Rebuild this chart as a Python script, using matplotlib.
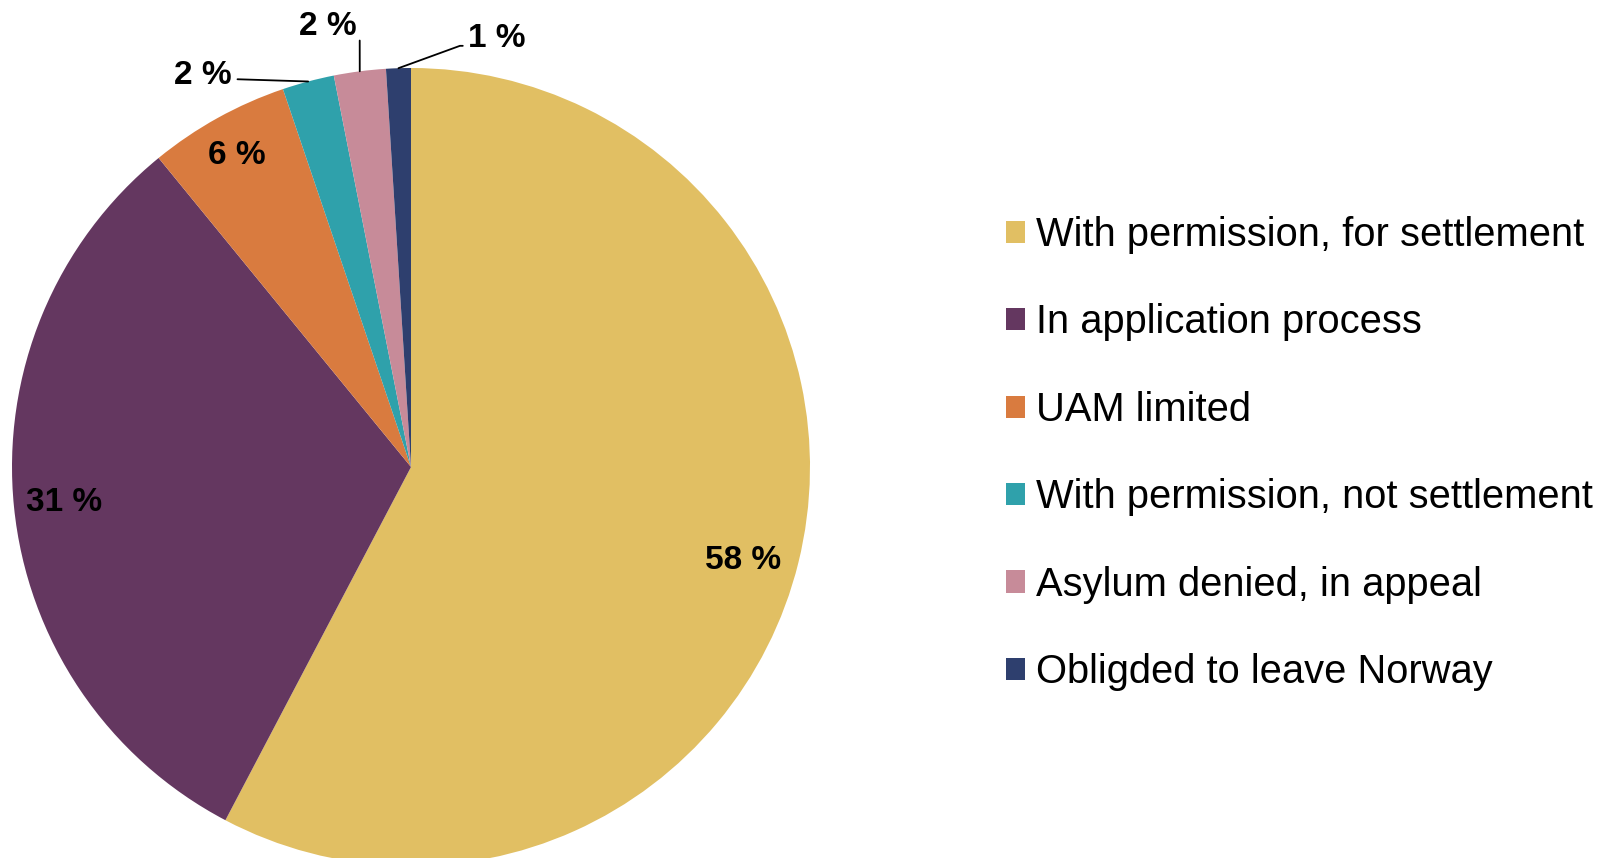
import numpy as np
import matplotlib.pyplot as plt

plt.rcParams['font.family'] = ['Liberation Sans', 'DejaVu Sans']

categories = ['With permission, for settlement', 'In application process', 'UAM limited',
              'With permission, not settlement', 'Asylum denied, in appeal', 'Obligded to leave Norway']
values = [57.7, 31.4, 5.7, 2.1, 2.1, 1.0]
pct_labels = ['58 %', '31 %', '6 %', '2 %', '2 %', '1 %']
colors = ['#E1BF63', '#643760', '#D97B3F', '#2FA1AB', '#C78B99', '#2E3F6E']

W, H = 1598, 858
fig = plt.figure(figsize=(W / 100, H / 100), dpi=100)
ax = fig.add_axes([0, 0, 1, 1])

# pie centre in pixels and radius
cx, cy, r = 411, 467, 399
wedges, _ = ax.pie(values, colors=colors, startangle=90, counterclock=False,
                   radius=1, wedgeprops=dict(linewidth=0))
ax.set_xlim(-cx / r, (W - cx) / r)
ax.set_ylim(-(H - cy) / r, cy / r)
ax.set_aspect('equal')
ax.axis('off')

label_kw = dict(fontsize=24, fontweight='bold', ha='center', va='center', color='black')

# inside labels (radius fraction, angle nudge in degrees)
inside_pos = [(0.865, -1.8), (0.875, 0.0), (0.895, 0.2)]
for w, lab, (rf, da) in zip(wedges[:3], pct_labels[:3], inside_pos):
    mid = np.deg2rad((w.theta1 + w.theta2) / 2 + da)
    ax.text(rf * np.cos(mid), rf * np.sin(mid), lab, **label_kw)

# outside labels with leader lines (text offsets in axis units)
outside = [
    (wedges[3], pct_labels[3], (-0.521, 0.980), dict(relpos=(1, 0.4), connectionstyle='arc3')),
    (wedges[4], pct_labels[4], (-0.208, 1.103), dict(relpos=(1.05, 0.15), connectionstyle='arc3')),
    (wedges[5], pct_labels[5], (0.216, 1.075), dict(relpos=(-0.05, 0.25),
                                                  connectionstyle='angle,angleA=0,angleB=20,rad=0')),
]
for w, lab, xytext, extra in outside:
    mid = np.deg2rad((w.theta1 + w.theta2) / 2)
    ax.annotate(lab, xy=(np.cos(mid), np.sin(mid)), xytext=xytext,
                arrowprops=dict(arrowstyle='-', color='black', lw=1.3,
                                shrinkA=2, shrinkB=0, **extra),
                **label_kw)

fig.legend(wedges, categories, loc='upper left', bbox_to_anchor=(1006 / W, 1 - 216 / H),
           frameon=False, fontsize=28.7, handlelength=0.48, handleheight=0.48,
           handletextpad=0.28, labelspacing=1.24, borderpad=0, borderaxespad=0)

fig.savefig('out.png', dpi=100)
